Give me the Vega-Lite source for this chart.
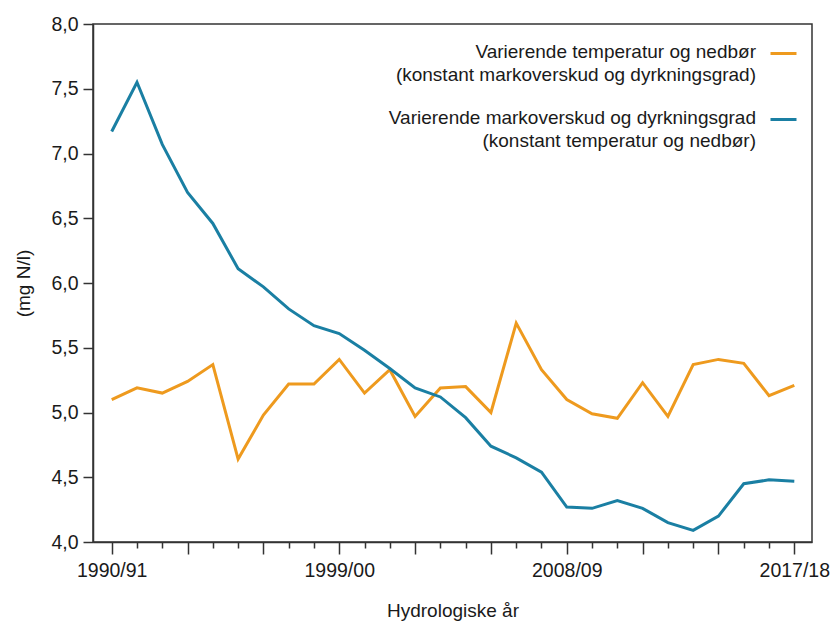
{
  "$schema": "https://vega.github.io/schema/vega-lite/v6.json",
  "width": 719,
  "height": 518,
  "autosize": {"type": "none"},
  "padding": {"left": 93, "top": 24, "right": 25, "bottom": 80},
  "background": "white",
  "config": {
    "font": "Liberation Sans",
    "view": {"stroke": "#333333", "strokeWidth": 1.5},
    "axis": {"domainColor": "#333333", "domainWidth": 1.5, "tickColor": "#333333", "tickWidth": 1.5, "labelColor": "#1a1a1a", "titleColor": "#1a1a1a", "labelFontSize": 19.5, "titleFontSize": 19, "titleFontWeight": "normal", "grid": false}
  },
  "data": {
    "values": [
      {"year": 1990, "serie": "A", "value": 5.10},
      {"year": 1991, "serie": "A", "value": 5.19},
      {"year": 1992, "serie": "A", "value": 5.15},
      {"year": 1993, "serie": "A", "value": 5.24},
      {"year": 1994, "serie": "A", "value": 5.37},
      {"year": 1995, "serie": "A", "value": 4.64},
      {"year": 1996, "serie": "A", "value": 4.98},
      {"year": 1997, "serie": "A", "value": 5.22},
      {"year": 1998, "serie": "A", "value": 5.22},
      {"year": 1999, "serie": "A", "value": 5.41},
      {"year": 2000, "serie": "A", "value": 5.15},
      {"year": 2001, "serie": "A", "value": 5.33},
      {"year": 2002, "serie": "A", "value": 4.97},
      {"year": 2003, "serie": "A", "value": 5.19},
      {"year": 2004, "serie": "A", "value": 5.20},
      {"year": 2005, "serie": "A", "value": 5.00},
      {"year": 2006, "serie": "A", "value": 5.69},
      {"year": 2007, "serie": "A", "value": 5.33},
      {"year": 2008, "serie": "A", "value": 5.10},
      {"year": 2009, "serie": "A", "value": 4.99},
      {"year": 2010, "serie": "A", "value": 4.955},
      {"year": 2011, "serie": "A", "value": 5.23},
      {"year": 2012, "serie": "A", "value": 4.97},
      {"year": 2013, "serie": "A", "value": 5.37},
      {"year": 2014, "serie": "A", "value": 5.41},
      {"year": 2015, "serie": "A", "value": 5.38},
      {"year": 2016, "serie": "A", "value": 5.13},
      {"year": 2017, "serie": "A", "value": 5.21},
      {"year": 1990, "serie": "B", "value": 7.17},
      {"year": 1991, "serie": "B", "value": 7.55},
      {"year": 1992, "serie": "B", "value": 7.07},
      {"year": 1993, "serie": "B", "value": 6.70},
      {"year": 1994, "serie": "B", "value": 6.46},
      {"year": 1995, "serie": "B", "value": 6.11},
      {"year": 1996, "serie": "B", "value": 5.97},
      {"year": 1997, "serie": "B", "value": 5.80},
      {"year": 1998, "serie": "B", "value": 5.67},
      {"year": 1999, "serie": "B", "value": 5.61},
      {"year": 2000, "serie": "B", "value": 5.48},
      {"year": 2001, "serie": "B", "value": 5.34},
      {"year": 2002, "serie": "B", "value": 5.19},
      {"year": 2003, "serie": "B", "value": 5.12},
      {"year": 2004, "serie": "B", "value": 4.96},
      {"year": 2005, "serie": "B", "value": 4.74},
      {"year": 2006, "serie": "B", "value": 4.65},
      {"year": 2007, "serie": "B", "value": 4.54},
      {"year": 2008, "serie": "B", "value": 4.27},
      {"year": 2009, "serie": "B", "value": 4.26},
      {"year": 2010, "serie": "B", "value": 4.32},
      {"year": 2011, "serie": "B", "value": 4.26},
      {"year": 2012, "serie": "B", "value": 4.15},
      {"year": 2013, "serie": "B", "value": 4.09},
      {"year": 2014, "serie": "B", "value": 4.20},
      {"year": 2015, "serie": "B", "value": 4.45},
      {"year": 2016, "serie": "B", "value": 4.48},
      {"year": 2017, "serie": "B", "value": 4.47}
    ]
  },
  "mark": {"type": "line", "strokeWidth": 3, "strokeJoin": "miter"},
  "encoding": {
    "x": {
      "field": "year",
      "type": "quantitative",
      "scale": {"domain": [1989.26, 2017.7], "nice": false, "zero": false},
      "axis": {
        "title": "Hydrologiske år",
        "titlePadding": 22,
        "values": [1990,1991,1992,1993,1994,1995,1996,1997,1998,1999,2000,2001,2002,2003,2004,2005,2006,2007,2008,2009,2010,2011,2012,2013,2014,2015,2016,2017],
        "labelExpr": "(datum.value - 1990) % 9 === 0 ? datum.value + '/' + substring(toString(datum.value + 1), 2, 4) : ''",
        "tickSize": {"condition": {"test": "(datum.value - 1990) % 3 === 0", "value": 12}, "value": 6},
        "labelPadding": 7,
        "labelOverlap": false,
        "labelFlush": false
      }
    },
    "y": {
      "field": "value",
      "type": "quantitative",
      "scale": {"domain": [4, 8], "nice": false, "zero": false},
      "axis": {
        "title": "(mg N/l)",
        "titlePadding": 17,
        "values": [4, 4.5, 5, 5.5, 6, 6.5, 7, 7.5, 8],
        "labelExpr": "replace(format(datum.value, '.1f'), '.', ',')",
        "tickSize": 10,
        "labelPadding": 5
      }
    },
    "color": {
      "field": "serie",
      "type": "nominal",
      "scale": {"domain": ["A", "B"], "range": ["#EE9A1E", "#1A7FA3"]},
      "legend": {
        "title": null,
        "orient": "none",
        "legendX": 676,
        "legendY": 15,
        "labelExpr": "datum.label === 'A' ? ['Varierende temperatur og nedbør', '(konstant markoverskud og dyrkningsgrad)'] : ['Varierende markoverskud og dyrkningsgrad', '(konstant temperatur og nedbør)']",
        "labelAlign": "right",
        "labelBaseline": "top",
        "labelOffset": -42,
        "labelFontSize": 19,
        "labelColor": "#1a1a1a",
        "labelLimit": 600,
        "symbolType": "stroke",
        "symbolSize": 676,
        "symbolStrokeWidth": 3,
        "rowPadding": 20,
        "encode": {
          "labels": {"update": {"dy": {"value": -11}, "lineHeight": {"value": 23}}}
        }
      }
    }
  }
}
